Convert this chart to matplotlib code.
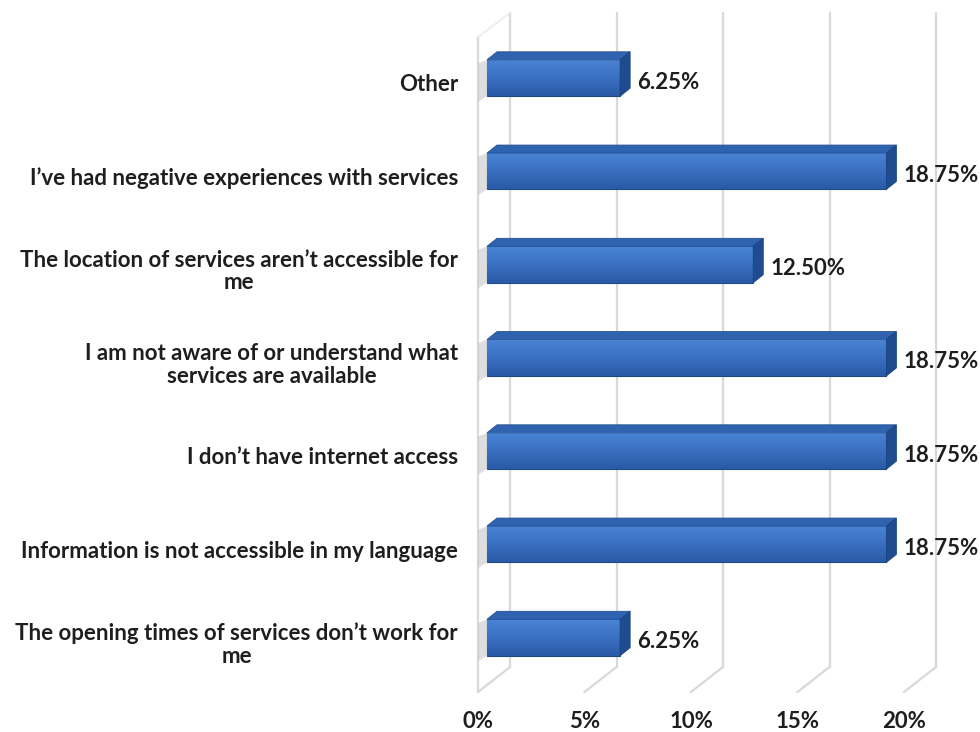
import numpy as np
import matplotlib.pyplot as plt
from matplotlib.patches import Polygon
from matplotlib.colors import LinearSegmentedColormap

# survey answers, top to bottom
categories = [
    "Other",
    "I\u2019ve had negative experiences with services",
    "The location of services aren\u2019t accessible for\nme",
    "I am not aware of or understand what\nservices are available",
    "I don\u2019t have internet access",
    "Information is not accessible in my language",
    "The opening times of services don\u2019t work for\nme",
]
values = [6.25, 18.75, 12.50, 18.75, 18.75, 18.75, 6.25]
ticks = [0, 5, 10, 15, 20]
tick_labels = ["0%", "5%", "10%", "15%", "20%"]

plt.rcParams['font.family'] = ['Lato', 'DejaVu Sans']
txt_color = '#1e1e1e'
grid_color = '#d9d9d9'
fsize = 16

fig = plt.figure(figsize=(9.8, 7.32), dpi=100)
ax = fig.add_axes([0, 0, 1, 1])
ax.axis('off')

# scale: 21.3 px per percent, 93.25 px per category
px_x = 21.3
px_y = 93.25
x0_px, y0_px = 487, 78
xlim = (-x0_px / px_x, (980 - x0_px) / px_x)
ylim = ((732 - y0_px) / px_y, -y0_px / px_y)

def py(p):
    # pixel row -> data y
    return (p - y0_px) / px_y

h = 0.39            # bar thickness
dx, dy = 10 / px_x, -8 / px_y   # 3d depth offset
front_off = -9 / px_x           # front edge of the floor
back_off = 23 / px_x            # back wall

# back wall gridlines and floor
for t in ticks:
    ax.plot([t + back_off, t + back_off], [py(13), py(667)], color=grid_color, lw=1.6, zorder=0)
    ax.plot([t + back_off, t + front_off], [py(667), py(692)], color=grid_color, lw=1.6, zorder=0)
# side wall
ax.plot([front_off, front_off], [py(37), py(692)], color=grid_color, lw=1.6, zorder=0)
ax.plot([front_off, back_off], [py(37), py(13)], color='#ececec', lw=1.2, zorder=0)

ypos = np.arange(len(categories))
bars = ax.barh(ypos, values, height=h, color='#3a70c0', edgecolor='#1f4a8a',
               linewidth=0.8, zorder=3)

cmap = LinearSegmentedColormap.from_list('barfill', ['#2a5aa6', '#3a70c2', '#4a84d4'])
grad = np.linspace(0, 1, 64).reshape(-1, 1)

for y, v, rect in zip(ypos, values, bars):
    top = y - h / 2
    bot = y + h / 2
    # shadow on the side wall
    ax.add_patch(Polygon([(front_off, top + 0.04), (0, top), (0, bot), (front_off, bot + 0.06)],
                         closed=True, facecolor='#c9c9c9', edgecolor='none', alpha=0.6, zorder=1))
    im = ax.imshow(grad, extent=(0, v, bot, top), origin='lower', cmap=cmap,
                   aspect='auto', zorder=4)
    im.set_clip_path(rect)
    # top face
    ax.add_patch(Polygon([(0, top), (dx, top + dy), (v + dx, top + dy), (v, top)],
                         closed=True, facecolor='#2f63b0', edgecolor='#244f92', lw=0.6, zorder=5))
    # right face
    ax.add_patch(Polygon([(v, top), (v + dx, top + dy), (v + dx, bot + dy), (v, bot)],
                         closed=True, facecolor='#1f4c90', edgecolor='#1a427e', lw=0.6, zorder=5))
    ax.text(v + 17 / px_x, y + 0.045, f"{v:.2f}%", ha='left', va='center',
            fontsize=fsize, fontweight='bold', color=txt_color, zorder=6)

for y, c in zip(ypos, categories):
    ax.text(-29 / px_x, y + 0.075, c, ha='right', va='center', multialignment='center',
            fontsize=fsize, fontweight='bold', color=txt_color, linespacing=1.1)

for t, lab in zip(ticks, tick_labels):
    ax.text(t + front_off, py(722), lab, ha='center', va='center',
            fontsize=fsize, fontweight='bold', color=txt_color)

ax.set_xlim(*xlim)
ax.set_ylim(*ylim)

fig.savefig('out.png', dpi=100, facecolor='white')
